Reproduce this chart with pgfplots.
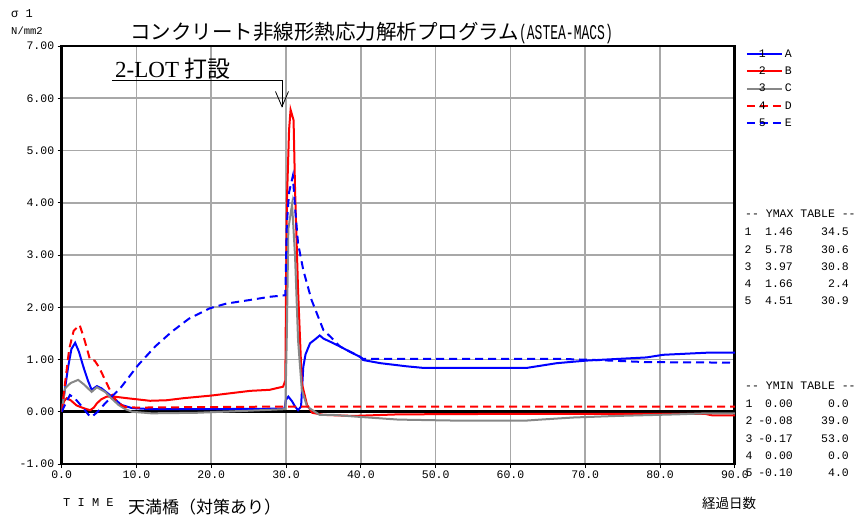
\documentclass[border=0pt]{standalone}
\usepackage{fontspec}
\setmainfont{Liberation Mono}
\setmonofont{Liberation Mono}
\newfontfamily\cjk{Noto Sans CJK JP}
\newfontfamily\lser{Liberation Serif}
\usepackage{pgfplots}
\pgfplotsset{compat=1.18}
\definecolor{gridgray}{RGB}{168,168,168}
\definecolor{cblue}{RGB}{0,0,255}
\definecolor{cred}{RGB}{255,0,0}
\definecolor{cgray}{RGB}{135,135,135}
\newcommand{\fs}[1]{\fontsize{#1}{#1}\selectfont}
\begin{document}
\begin{tikzpicture}
\path[use as bounding box] (0pt,0pt) rectangle (855pt,-515pt);
\begin{axis}[
  at={(61.7pt,-464pt)}, anchor=south west,
  scale only axis, width=673.2pt, height=418pt,
  xmin=0, xmax=90, ymin=-1, ymax=7,
  xtick={0,10,...,90}, ytick={-1,0,...,7},
  xticklabels={0.0,10.0,20.0,30.0,40.0,50.0,60.0,70.0,80.0,90.0},
  yticklabels={-1.00,0.00,1.00,2.00,3.00,4.00,5.00,6.00,7.00},
  xtick pos=bottom, ytick pos=left,
  tick align=outside, major tick length=4pt,
  tick style={black, line width=1pt},
  grid=major, major grid style={gridgray, line width=1.6pt},
  axis line style={line width=2.8pt},
  ticklabel style={font=\fs{11.5}},
  xticklabel style={yshift=1pt},
  legend image code/.code={\draw[#1] (0pt,-1.4pt) -- (35pt,-1.4pt);},
  legend style={at={(1,1)}, anchor=north west, xshift=10.7pt, yshift=-1.9pt,
    draw=none, fill=none, inner sep=0pt, font=\fs{11.5},
    nodes={inner sep=0pt, text height=9pt, text depth=0pt},
    row sep=8.3pt, column sep=2pt},
  legend cell align=left,
]
\draw[black, line width=2.8pt] (axis cs:0,0) -- (axis cs:90,0);
% A
\addplot[cblue, line width=2pt] coordinates {
(0,0) (0.4,0.4) (0.85,0.85) (1.3,1.2) (1.8,1.32) (2.3,1.15) (2.9,0.86) (3.5,0.6) (4.0,0.42) (4.7,0.49) (5.3,0.45) (6.0,0.37) (6.7,0.29) (8.0,0.13) (9.4,0.07) (12,0.05) (20,0.05) (29.8,0.06) (29.95,0.22) (30.3,0.29) (30.8,0.2) (31.2,0.1) (31.6,0.03) (32.0,0.1) (32.3,0.86) (32.6,1.1) (33.2,1.31) (34.0,1.40) (34.5,1.46) (35.0,1.40) (35.9,1.34) (37.2,1.25) (38.5,1.15) (39.9,1.05) (40.3,0.99) (42.6,0.93) (46.1,0.87) (48.3,0.84) (62.2,0.84) (66.2,0.93) (70.2,0.98) (78.2,1.04) (80.4,1.09) (86.2,1.13) (90,1.13)};
\addlegendentry{\makebox[0pt][r]{1\hspace{19pt}}A}
% B
\addplot[cred, line width=2pt] coordinates {
(0,0) (0.3,0.2) (0.67,0.26) (1.2,0.22) (2.0,0.12) (2.9,0.07) (3.8,0.03) (4.3,0.08) (4.7,0.16) (5.3,0.24) (6.0,0.29) (7,0.29) (8.7,0.26) (11.8,0.21) (14,0.22) (16.3,0.26) (20,0.31) (25.2,0.40) (27.8,0.42) (29.6,0.48) (29.9,0.6) (30.0,2.5) (30.1,4.0) (30.4,5.4) (30.6,5.78) (31.0,5.58) (31.2,4.24) (31.6,2.33) (32.1,0.55) (32.8,0.13) (33.5,-0.02) (35,-0.06) (39,-0.08) (45,-0.05) (60,-0.04) (80,-0.04) (86,-0.04) (87,-0.07) (90,-0.07)};
\addlegendentry{\makebox[0pt][r]{2\hspace{19pt}}B}
% C
\addplot[cgray, line width=2pt] coordinates {
(0,0) (0.45,0.45) (1.2,0.55) (2.2,0.61) (3.0,0.52) (4.0,0.38) (4.7,0.47) (5.8,0.38) (6.7,0.25) (7.6,0.13) (8.5,0.05) (9.4,0.0) (12,-0.03) (18,-0.02) (25,0.02) (29.9,0.05) (30.1,1.5) (30.3,3.5) (30.8,3.97) (31.2,2.97) (31.6,1.37) (32.1,0.42) (32.8,0.1) (34.5,-0.06) (36.3,-0.06) (40,-0.1) (45,-0.15) (53,-0.17) (62,-0.17) (64,-0.15) (68.4,-0.11) (74.2,-0.08) (82.2,-0.05) (86.2,-0.03) (90,-0.03)};
\addlegendentry{\makebox[0pt][r]{3\hspace{19pt}}C}
% D
\addplot[cred, line width=2pt, dash pattern=on 8pt off 5pt] coordinates {
(0,0) (0.45,0.55) (1.0,1.2) (1.6,1.55) (2.4,1.66) (3.0,1.4) (3.8,0.99) (4.4,0.98) (5.0,0.85) (5.8,0.61) (6.9,0.28) (8.0,0.13) (8.5,0.09) (10,0.08) (20,0.09) (30,0.1) (33,0.1) (90,0.1)};
\addlegendentry{\makebox[0pt][r]{4\hspace{19pt}}D}
% E
\addplot[cblue, line width=2pt, dash pattern=on 8pt off 5pt] coordinates {
(0,0) (0.5,0.15) (1.1,0.32) (1.8,0.25) (2.7,0.1) (3.6,-0.06) (4.0,-0.10) (4.8,0.0) (5.8,0.16) (7,0.33) (8,0.48) (10.2,0.89) (12.5,1.25) (14.7,1.53) (17,1.78) (19.8,1.98) (22,2.07) (25.2,2.14) (27.8,2.20) (29.9,2.23) (30.1,3.6) (30.4,4.2) (30.9,4.51) (31.2,3.9) (31.6,3.22) (32.3,2.71) (33.4,2.14) (35.0,1.56) (35.9,1.44) (37.2,1.25) (39.9,1.05) (40.3,1.01) (67,1.01) (71.5,0.99) (78.2,0.95) (90,0.94)};
\addlegendentry{\makebox[0pt][r]{5\hspace{19pt}}E}
% annotation
\draw[black, line width=0.8pt] (axis cs:6.72,6.35) -- (axis cs:29.45,6.35) -- (axis cs:29.45,5.84);
\draw[black, line width=0.8pt] (axis cs:28.58,6.13) -- (axis cs:29.45,5.84) -- (axis cs:30.32,6.13);
\end{axis}
% texts
\node[anchor=center, inner sep=0pt] at (22pt,-14pt) {\fs{12}σ 1};
\node[anchor=center, inner sep=0pt] at (27pt,-31pt) {\fs{10.5}N/mm2};
\node[anchor=west, inner sep=0pt] at (130pt,-33pt) {{\cjk\fs{20.5}コンクリート非線形熱応力解析プログラム}\scalebox{0.62}[1]{\fs{21}(ASTEA-MACS)}};
\node[anchor=base west, inner sep=0pt] at (115pt,-77pt) {{\lser\fs{23}2-LOT }{\cjk\fs{23}打設}};
\node[anchor=west, inner sep=0pt] at (63pt,-503pt) {\fs{12}T I M E};
\node[anchor=west, inner sep=0pt] at (128pt,-507pt) {\cjk\fs{17}天満橋（対策あり）};
\node[anchor=center, inner sep=0pt] at (729pt,-503pt) {\cjk\fs{13.5}経過日数};
% YMAX table
\node[anchor=west, inner sep=0pt] at (745pt,-213.3pt) {\fs{11.5}-{}- YMAX TABLE -{}-};
\foreach \y/\n/\v/\t in {231.7/1/1.46/34.5, 249.3/2/5.78/30.6, 266.7/3/3.97/30.8, 283.3/4/1.66/2.4, 300.7/5/4.51/30.9}{
  \node[anchor=center, inner sep=0pt] at (748pt,-\y pt) {\fs{11.5}\n};
  \node[anchor=east, inner sep=0pt] at (793pt,-\y pt) {\fs{11.5}\v};
  \node[anchor=east, inner sep=0pt] at (849pt,-\y pt) {\fs{11.5}\t};
}
% YMIN table
\node[anchor=west, inner sep=0pt] at (745pt,-385.5pt) {\fs{11.5}-{}- YMIN TABLE -{}-};
\foreach \y/\n/\v/\t in {403.7/1/0.00/0.0, 421/2/-0.08/39.0, 438.3/3/-0.17/53.0, 456/4/0.00/0.0, 472.5/5/-0.10/4.0}{
  \node[anchor=center, inner sep=0pt] at (749pt,-\y pt) {\fs{11.5}\n};
  \node[anchor=east, inner sep=0pt] at (793pt,-\y pt) {\fs{11.5}\v};
  \node[anchor=east, inner sep=0pt] at (849pt,-\y pt) {\fs{11.5}\t};
}
\end{tikzpicture}
\end{document}
